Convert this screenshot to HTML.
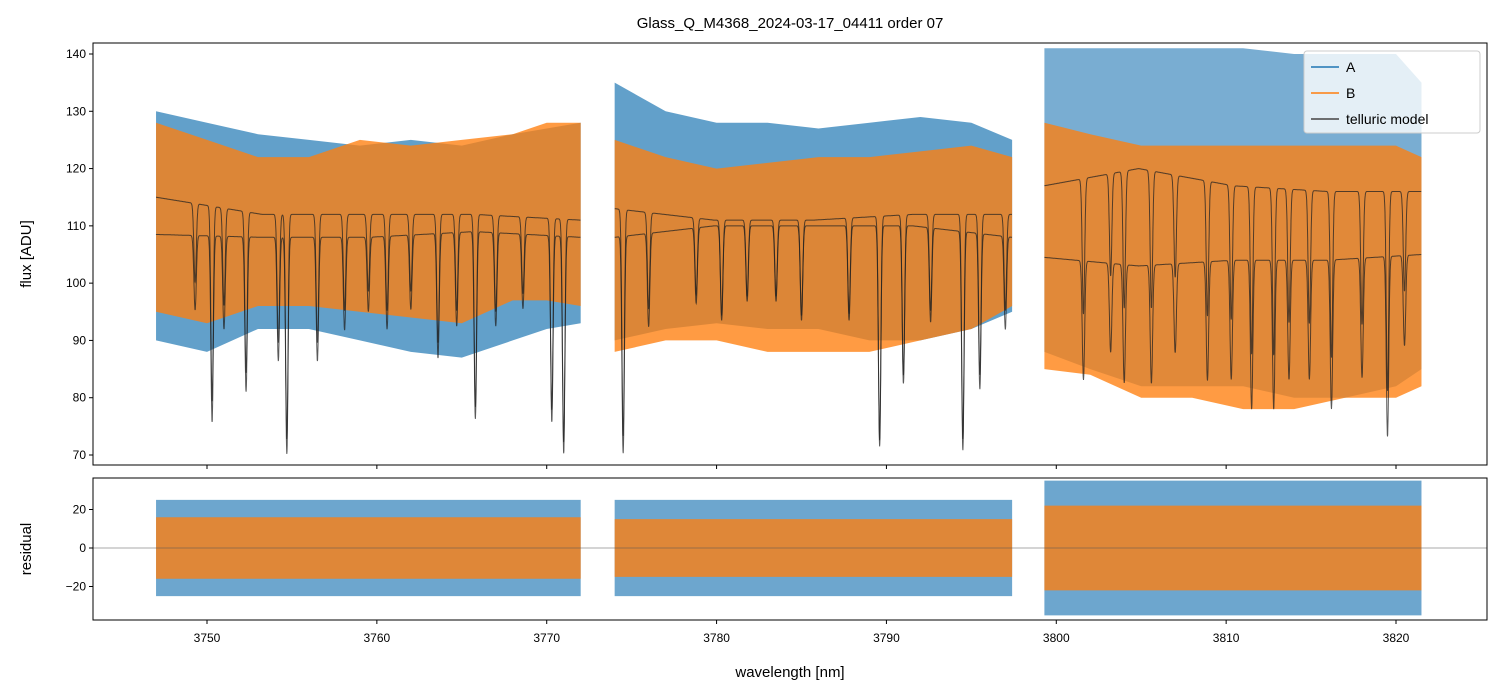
<!DOCTYPE html>
<html><head><meta charset="utf-8"><style>
body{margin:0;background:#fff;}
svg{display:block;font-family:"Liberation Sans","DejaVu Sans",sans-serif;}
</style></head><body>
<svg id="chart" width="1502" height="696" viewBox="0 0 1502 696">
<text x="790" y="28" text-anchor="middle" font-size="15">Glass_Q_M4368_2024-03-17_04411  order 07</text>
<g id="main"></g><g id="resid"></g>
<text x="790" y="677" text-anchor="middle" font-size="15">wavelength [nm]</text>
<text transform="translate(31,254) rotate(-90)" text-anchor="middle" font-size="15">flux [ADU]</text>
<text transform="translate(31,549) rotate(-90)" text-anchor="middle" font-size="15">residual</text>
</svg>
<script>
const xTicks=[3750,3760,3770,3780,3790,3800,3810,3820];
const yTicks=[70,80,90,100,110,120,130,140];
const rTicks=[-20,0,20];
const segments=[[3747,3772],[3774,3797.4],[3799.3,3821.5]];
const knots=[[3747,3750,3753,3756,3759,3762,3765,3768,3770,3772],[3774,3777,3780,3783,3786,3789,3792,3795,3797.4],[3799.3,3802,3805,3808,3811,3814,3817,3820,3821.5]];
const blueHi=[[130,128,126,125,124,125,124,126,127,128],[135,130,128,128,127,128,129,128,125],[141,141,141,141,141,140,140,140,135]];
const blueLo=[[90,88,92,92,90,88,87,90,92,93],[90,92,93,92,92,90,90,92,95],[88,85,82,82,82,80,80,82,85]];
const orangeHi=[[128,125,122,122,125,124,125,126,128,128],[125,122,120,121,122,122,123,124,122],[128,126,124,124,124,124,124,124,122]];
const orangeLo=[[95,93,96,96,95,94,93,97,97,96],[88,90,90,88,88,88,90,92,96],[85,84,80,80,78,78,80,80,82]];
const contA=[[115,112,112,112,111],[113,111,111,112,112],[117,120,117,116,116]];
const contB=[[108.5,108,108,109,108],[108,110,110,110,108],[104.5,103,104,104,105]];
const lineCenters=[3749.3,3750.3,3751.0,3752.3,3754.2,3754.7,3756.5,3758.1,3759.5,3760.6,3762.0,3763.6,3764.7,3765.8,3767.0,3768.6,3770.3,3771.0,3774.5,3776.0,3778.8,3780.3,3781.8,3783.5,3785.0,3787.8,3789.6,3791.0,3792.6,3794.5,3795.5,3797.0,3801.6,3803.2,3804.0,3805.6,3807.0,3808.9,3810.3,3811.5,3812.8,3813.7,3814.9,3816.2,3818.0,3819.5,3820.5];
const lineDepths=[0.12,0.3,0.15,0.25,0.2,0.35,0.2,0.15,0.12,0.15,0.12,0.2,0.15,0.3,0.15,0.12,0.3,0.35,0.35,0.15,0.12,0.15,0.12,0.12,0.15,0.15,0.35,0.25,0.15,0.35,0.25,0.15,0.2,0.15,0.2,0.2,0.15,0.2,0.2,0.25,0.25,0.2,0.2,0.25,0.2,0.3,0.15];
const residBlue=[25,25,35];
const residOrange=[16,15,22];

const NS="http://www.w3.org/2000/svg";
const L=93,R=1487,MT=43,MB=465,RT=478,RB=620;
const x=w=>207+(w-3750)*(1189/70);
const y=v=>455-(v-70)*(401/70);
const yr=v=>548-v*1.925;
function mk(tag,attrs,parent){const e=document.createElementNS(NS,tag);for(const k in attrs)e.setAttribute(k,attrs[k]);parent.appendChild(e);return e;}
function interp(ks,vs,w){for(let i=0;i<ks.length-1;i++){if(w<=ks[i+1]){const t=(w-ks[i])/(ks[i+1]-ks[i]);return vs[i]+t*(vs[i+1]-vs[i]);}}return vs[vs.length-1];}
const main=document.getElementById('main'),resid=document.getElementById('resid');
const cm=mk('clipPath',{id:'cm'},main);mk('rect',{x:L,y:MT,width:R-L,height:MB-MT},cm);
const cr=mk('clipPath',{id:'cr'},resid);mk('rect',{x:L,y:RT,width:R-L,height:RB-RT},cr);
const gm=mk('g',{'clip-path':'url(#cm)'},main);
const gr=mk('g',{'clip-path':'url(#cr)'},resid);
function band(ks,hi,lo,color,op,name,g,f){
  let pts=[];for(let i=0;i<ks.length;i++)pts.push(x(ks[i])+','+f(hi[i]));
  for(let i=ks.length-1;i>=0;i--)pts.push(x(ks[i])+','+f(lo[i]));
  const p=mk('polygon',{points:pts.join(' '),fill:color,'fill-opacity':op},g);
  
  
}
segments.forEach((s,si)=>{
  band(knots[si],blueHi[si],blueLo[si],'#1f77b4',si==2?0.6:0.7,'series-a-band-'+si,gm,y);
  band(knots[si],orangeHi[si],orangeLo[si],'#ff7f0e',0.78,'series-b-band-'+si,gm,y);
  const rk=[s[0],s[1]];
  band(rk,[residBlue[si],residBlue[si]],[-residBlue[si],-residBlue[si]],'#1f77b4',0.65,'resid-a-band-'+si,gr,yr);
  band(rk,[residOrange[si],residOrange[si]],[-residOrange[si],-residOrange[si]],'#ff7f0e',0.78,'resid-b-band-'+si,gr,yr);
  [contA,contB].forEach((cont,ci)=>{
    const ck=[];for(let i=0;i<5;i++)ck.push(s[0]+(s[1]-s[0])*i/4);
    let d='';
    for(let w=s[0];w<=s[1];w+=0.01){
      let v=interp(ck,cont[si],w);
      lineCenters.forEach((c,i)=>{const z=(w-c)/0.1;if(Math.abs(z)<5)v*=1-lineDepths[i]*Math.exp(-z*z);});
      d+=(d?'L':'M')+x(w).toFixed(1)+','+y(v).toFixed(1);
    }
    const p=mk('path',{d:d,fill:'none',stroke:'#222','stroke-opacity':0.75,'stroke-width':1},gm);
    
    
  });
});
mk('line',{x1:L,x2:R,y1:yr(0),y2:yr(0),stroke:'#555','stroke-width':0.6},gr);
[[MT,MB],[RT,RB]].forEach(([t,b],k)=>{
  const f=mk('rect',{x:L,y:t,width:R-L,height:b-t,fill:'none',stroke:'#000','stroke-width':1},k?resid:main);
  
  
});
xTicks.forEach(t=>{
  mk('line',{x1:x(t),x2:x(t),y1:MB,y2:MB+4,stroke:'#000'},main);
  mk('line',{x1:x(t),x2:x(t),y1:RB,y2:RB+4,stroke:'#000'},resid);
  const tx=mk('text',{x:x(t),y:RB+22,'text-anchor':'middle','font-size':12},resid);tx.textContent=t;
  
  
});
yTicks.forEach(t=>{
  mk('line',{x1:L-4,x2:L,y1:y(t),y2:y(t),stroke:'#000'},main);
  const tx=mk('text',{x:L-7,y:y(t)+4,'text-anchor':'end','font-size':12},main);tx.textContent=t;
  
  
});
rTicks.forEach(t=>{
  mk('line',{x1:L-4,x2:L,y1:yr(t),y2:yr(t),stroke:'#000'},resid);
  const tx=mk('text',{x:L-7,y:yr(t)+4,'text-anchor':'end','font-size':12},resid);tx.textContent=(t<0?'\u2212'+(-t):t);
  
  
});
const lg=mk('g',{},main);


mk('rect',{x:1304,y:51,width:176,height:82,rx:3,fill:'#fff','fill-opacity':0.8,stroke:'#ccc'},lg);
[['A','#1f77b4'],['B','#ff7f0e'],['telluric model','#444']].forEach((e,i)=>{
  const yy=67+i*26;
  const en=mk('g',{},lg);
  
  
  mk('line',{x1:1311,x2:1339,y1:yy,y2:yy,stroke:e[1],'stroke-width':1.5},en);
  const t=mk('text',{x:1346,y:yy+5,'font-size':14},en);t.textContent=e[0];
});
</script>
</body></html>
